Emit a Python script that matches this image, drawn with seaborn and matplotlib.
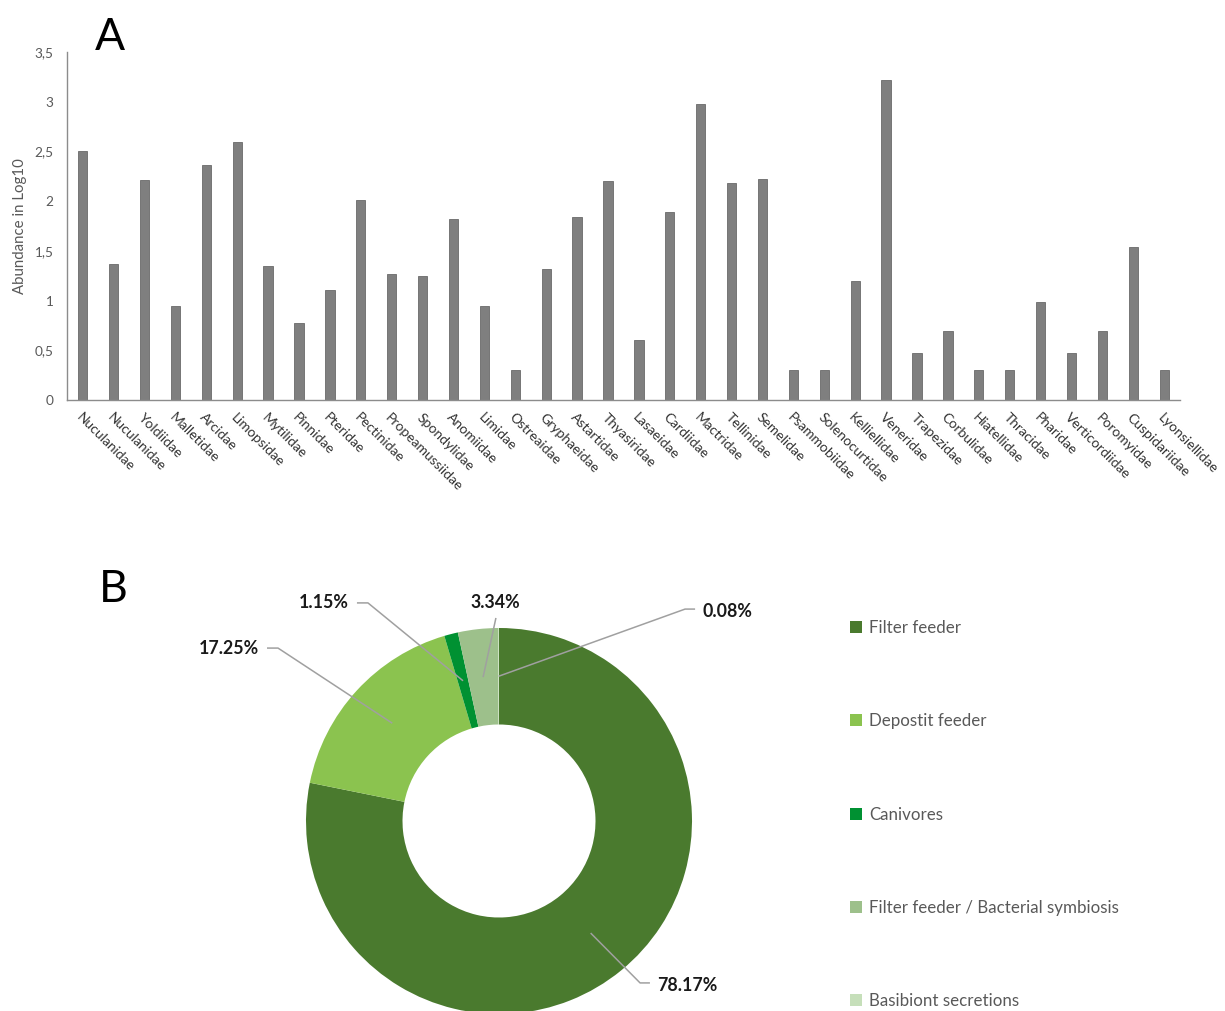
import numpy as np
import pandas as pd
import matplotlib
matplotlib.use("Agg")
import matplotlib.pyplot as plt
import seaborn as sns

# ---------------- data ----------------
families = ["Nuculanidae", "Nuculanidae", "Yoldiidae", "Malletidae", "Arcidae", "Limopsidae",
            "Mytilidae", "Pinnidae", "Pteridae", "Pectinidae", "Propeamussiidae", "Spondylidae",
            "Anomiidae", "Limidae", "Ostreaidae", "Gryphaeidae", "Astartidae", "Thyasiridae",
            "Lasaeidae", "Cardiidae", "Mactridae", "Tellinidae", "Semelidae", "Psammobiidae",
            "Solenocurtidae", "Kelliellidae", "Veneridae", "Trapezidae", "Corbulidae", "Hiatellidae",
            "Thracidae", "Pharidae", "Verticordiidae", "Poromyidae", "Cuspidariidae", "Lyonsiellidae"]
abundance = [2.50, 1.37, 2.21, 0.95, 2.36, 2.59,
             1.35, 0.77, 1.11, 2.01, 1.27, 1.25,
             1.82, 0.95, 0.30, 1.32, 1.84, 2.20,
             0.60, 1.89, 2.98, 2.18, 2.22, 0.30,
             0.30, 1.20, 3.22, 0.47, 0.69, 0.30,
             0.30, 0.99, 0.47, 0.69, 1.54, 0.30]
y_ticks = [0, 0.5, 1, 1.5, 2, 2.5, 3, 3.5]
y_tick_labels = ["0", "0,5", "1", "1,5", "2", "2,5", "3", "3,5"]

feeding_groups = ["Filter feeder", "Depostit feeder", "Canivores",
                  "Filter feeder / Bacterial symbiosis", "Basibiont secretions"]
feeding_pct = [78.17, 17.25, 1.15, 3.34, 0.08]
feeding_labels = ["78.17%", "17.25%", "1.15%", "3.34%", "0.08%"]
feeding_colors = ["#4a7a2e", "#8bc34f", "#009132", "#9dc08b", "#c6dfba"]

# ---------------- style ----------------
sns.set_theme(style="white")
plt.rcParams["font.family"] = ["Lato", "DejaVu Sans"]

W, H = 1225, 1011
fig = plt.figure(figsize=(W / 100, H / 100), dpi=100)

def px_box(x0, y0, x1, y1):
    return [x0 / W, 1 - y1 / H, (x1 - x0) / W, (y1 - y0) / H]

# ---------------- panel A: bars ----------------
axA = fig.add_axes(px_box(67.3, 52, 1179.6, 400))
df = pd.DataFrame({"idx": np.arange(len(families)), "family": families, "value": abundance})
sns.barplot(data=df, x="idx", y="value", color="#7f7f7f", width=0.3, saturation=1,
            edgecolor="#6a6a6a", linewidth=0.6, ax=axA)
axA.set_xlim(-0.5, len(families) - 0.5)
axA.set_ylim(0, 3.5)
axA.set_yticks(y_ticks)
axA.set_yticklabels(y_tick_labels, color="#595959", fontsize=9.8)
axA.set_xticks(np.arange(len(families)))
axA.set_xticklabels(families, rotation=-45, ha="left", va="top", rotation_mode="anchor",
                    color="#333333", fontsize=10)
axA.tick_params(axis="both", length=0)
axA.tick_params(axis="y", pad=10)
axA.tick_params(axis="x", pad=8)
axA.set_xlabel("")
axA.set_ylabel("Abundance in Log10", color="#595959", fontsize=10.8, labelpad=5)
for s in ["top", "right"]:
    axA.spines[s].set_visible(False)
for s in ["left", "bottom"]:
    axA.spines[s].set_color("#8c8c8c")
    axA.spines[s].set_linewidth(1.0)

fig.text(95 / W, 1 - 50 / H, "A", fontsize=32, color="black", ha="left", va="baseline")
fig.text(99 / W, 1 - 602 / H, "B", fontsize=32, color="black", ha="left", va="baseline")

# ---------------- panel B: donut ----------------
R = 193
cx, cy = 499, 821
axB = fig.add_axes(px_box(cx - R, cy - R, cx + R, cy + R))
wedges, _ = axB.pie(feeding_pct, colors=feeding_colors, startangle=90, counterclock=False,
                    radius=1, wedgeprops=dict(width=0.5, edgecolor="none"))
axB.set_xlim(-1, 1)
axB.set_ylim(-1, 1)
axB.set_aspect("equal")
axB.axis("off")

# label layout (data units of the donut axes): text anchor, elbow, line end near text, alignment
label_layout = [
    dict(text=(0.819, -0.850), elbow=(0.731, -0.839), tail=(0.782, -0.839), ha="left"),
    dict(text=(-1.244, 0.896), elbow=(-1.145, 0.896), tail=(-1.202, 0.896), ha="right"),
    dict(text=(-0.777, 1.130), elbow=(-0.679, 1.130), tail=(-0.736, 1.130), ha="right"),
    dict(text=(-0.021, 1.130), elbow=(-0.016, 1.052), tail=(-0.016, 1.052), ha="center"),
    dict(text=(1.052, 1.083), elbow=(0.964, 1.098), tail=(1.016, 1.098), ha="left"),
]
for w, lab, lay in zip(wedges, feeding_labels, label_layout):
    mid = np.deg2rad((w.theta1 + w.theta2) / 2)
    ax_, ay_ = 0.75 * np.cos(mid), 0.75 * np.sin(mid)
    xs = [ax_, lay["elbow"][0], lay["tail"][0]]
    ys = [ay_, lay["elbow"][1], lay["tail"][1]]
    axB.plot(xs, ys, color="#a0a0a0", lw=1.1, clip_on=False, solid_capstyle="butt")
    axB.text(lay["text"][0], lay["text"][1], lab, ha=lay["ha"], va="center",
             fontsize=12.8, fontweight="bold", color="#1a1a1a", clip_on=False)

leg = fig.legend(wedges, feeding_groups, loc="upper left",
                 bbox_to_anchor=(850 / W, 1 - 620 / H), frameon=False,
                 fontsize=12.2, labelcolor="#595959", handlelength=0.7, handleheight=0.7,
                 handletextpad=0.45, labelspacing=4.56, borderpad=0, borderaxespad=0)

fig.savefig("out.png", dpi=100, facecolor="white")
